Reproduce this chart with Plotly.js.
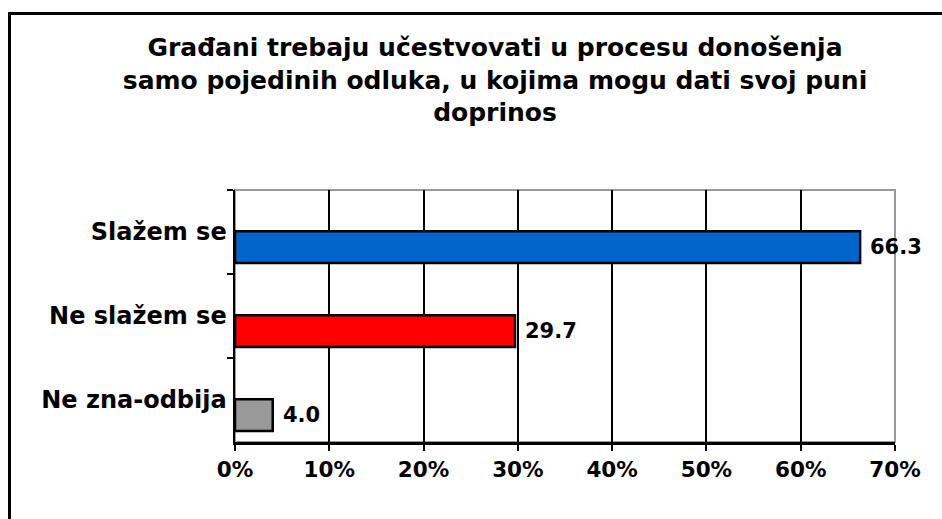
<!DOCTYPE html>
<html>
<head>
<meta charset="utf-8">
<script src="https://cdn.plot.ly/plotly-3.0.1.min.js"></script>
<style>
  html, body { margin: 0; padding: 0; background: #fff; overflow: hidden; }
  #plot { width: 942px; height: 519px; }
  #frame {
    position: absolute; left: 8px; top: 12px; width: 1000px; height: 600px;
    border: 3px solid #000; pointer-events: none;
  }
</style>
</head>
<body>
<div id="plot"></div>
<div id="frame"></div>
<script>
const categories = ["Slažem se", "Ne slažem se", "Ne zna-odbija"];
const values = [66.3, 29.7, 4.0];
const barColors = ["#0066cc", "#ff0000", "#999999"];
const chartTitle = "Građani trebaju učestvovati u procesu donošenja<br>samo pojedinih odluka, u kojima mogu dati svoj puni<br>doprinos";

const font = "DejaVu Sans, Verdana, sans-serif";
const barWidth = 0.38;
const barOffset = -0.01; // bars sit a bit below the category centre

const trace = {
  type: "bar",
  orientation: "h",
  x: values,
  y: categories,
  marker: { color: barColors, line: { color: "#000", width: 2.5 } },
  width: barWidth,
  offset: barOffset,
  hoverinfo: "skip",
};

const labels = values.map((v, i) => ({
  x: v,
  y: i + barOffset + barWidth / 2,
  xref: "x",
  yref: "y",
  text: v.toFixed(1),
  showarrow: false,
  xanchor: "left",
  yanchor: "middle",
  xshift: 8,
  font: { family: font, size: 21, color: "#000", weight: "bold" },
}));

const layout = {
  width: 942,
  height: 519,
  margin: { l: 235, r: 47, t: 190, b: 77 },
  paper_bgcolor: "#fff",
  plot_bgcolor: "#fff",
  showlegend: false,
  font: { family: font, color: "#000" },
  title: {
    text: chartTitle,
    font: { family: font, size: 25, color: "#000", weight: "bold" },
    x: 495 / 942,
    xref: "container",
    xanchor: "center",
    y: 1 - 56 / 519,
    yref: "container",
    yanchor: "middle",
  },
  xaxis: {
    range: [0, 70],
    dtick: 10,
    ticksuffix: "%",
    showgrid: true,
    gridcolor: "#000",
    gridwidth: 2,
    zeroline: false,
    showline: true,
    linecolor: "#000",
    linewidth: 3,
    ticks: "outside",
    ticklen: 6,
    tickwidth: 2,
    tickcolor: "#000",
    ticklabelstandoff: 0,
    tickfont: { family: font, size: 21.5, color: "#000", weight: "bold" },
    fixedrange: true,
  },
  yaxis: {
    autorange: "reversed",
    showgrid: false,
    showline: true,
    linecolor: "#000",
    linewidth: 2.5,
    ticks: "outside",
    tickson: "boundaries",
    ticklen: 6,
    tickwidth: 2,
    tickcolor: "#000",
    ticklabelstandoff: 1,
    tickfont: { family: font, size: 24, color: "#000", weight: "bold" },
    fixedrange: true,
  },
  annotations: labels,
  shapes: [
    {
      type: "rect",
      xref: "paper",
      yref: "paper",
      x0: 0,
      x1: 1,
      y0: 0,
      y1: 1,
      line: { color: "#999", width: 2 },
      layer: "below",
    },
  ],
};

Plotly.newPlot("plot", [trace], layout, { displayModeBar: false, staticPlot: true });
</script>
</body>
</html>
